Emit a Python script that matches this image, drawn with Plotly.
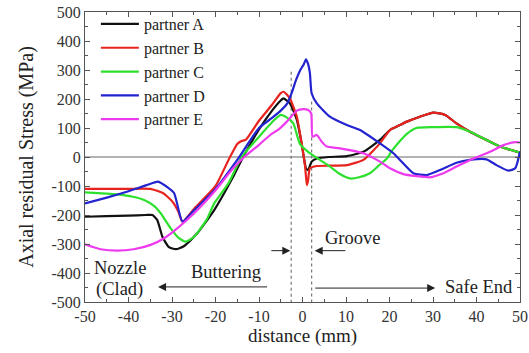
import plotly.graph_objects as go

# ---------------- data ----------------
names = ["partner A", "partner B", "partner C", "partner D", "partner E"]
colors = ["#111111", "#e8231e", "#2ee02e", "#2323d0", "#ee3aee"]

xA = [-50, -45, -40, -36, -34.5, -33.4, -32.2, -30.7, -29.1, -27.2, -24.2, -20.3, -16, -14, -10, -7, -5, -4.4,
      -2.9, -1.3, -0.2, 0.8, 1.3, 2.1, 3.3, 6, 10.2, 14, 17.8, 20.1, 22.4, 24, 27, 30.1, 32.8, 35.4, 38.5, 41.6, 45.4, 50]
yA = [-206, -204, -202, -200, -200, -217, -275, -311, -318, -307, -263, -183, -70, -10, 95, 160, 195, 202,
      185, 128, 47, -39, -45, -16, -5, 0, 3, 18, 59, 93, 110, 122, 139, 153, 145, 116, 87, 64, 36, 15]

xB = [-50, -45, -40, -35, -32, -29.9, -28.5, -27.6, -25, -20, -17, -15, -14, -13, -10, -7, -5, -4.3, -2.9, -1.3,
      -0.2, 0.6, 1.0, 1.3, 1.7, 3.3, 6, 10.2, 14, 17.8, 20.1, 22.4, 24, 27, 30.1, 32.8, 35.4, 38.5, 41.6, 45.4, 50]
yB = [-110, -110, -110, -110, -125, -154, -190, -223, -180, -100, -10, 45, 55, 60, 125, 180, 220, 225, 202, 139,
      47, -33, -97, -79, -39, -31, -30, -28, -10, 47, 93, 110, 122, 139, 153, 145, 116, 87, 64, 36, 15]

xC = [-50, -45, -42.6, -39, -36.4, -34, -32.6, -30.3, -28.4, -26.9, -24.9, -22, -20.3, -17, -14, -10, -7, -5,
      -3.5, -2.1, -0.6, 1.5, 3.5, 6.3, 8.5, 10.9, 13, 15.5, 17.5, 19.4, 20.5, 22.4, 24, 26.2, 30, 35.4, 38.5,
      41.6, 45.4, 50]
yC = [-122, -126, -129, -137, -148, -170, -194, -246, -280, -292, -275, -215, -160, -90, 0, 70, 120, 145,
      135, 116, 45, 15, -5, -33, -58, -74, -70, -56, -30, -5, 20, 55, 80, 100, 103, 103, 87, 64, 36, 15]

xD = [-50, -45, -40, -36, -33.2, -31, -29.5, -27.6, -25, -20, -15, -10, -7, -5, -3.5, -2.5, -1.5, -0.5, 0.3,
      0.8, 1.3, 1.7, 2.1, 3.3, 6.3, 10.2, 13.2, 17.8, 20.9, 22.4, 25.5, 28.6, 31.6, 35.4, 38.5, 42.3, 44.6,
      47.3, 48.9, 50]
yD = [-160, -140, -118, -98, -85, -105, -125, -223, -185, -110, -10, 100, 135, 160, 185, 220, 265, 300, 320,
      337, 320, 289, 220, 185, 139, 110, 93, 47, 13, -10, -56, -62, -45, -20, -10, -8, -28, -47, -39, 18]

xE = [-50, -46.4, -42.6, -38.8, -34.9, -31.8, -28.8, -24.9, -20.3, -16, -13, -10, -7.5, -5.5, -3.6, -1.3, 0.2,
      1.2, 2.0, 2.3, 3.3, 4.4, 5.6, 8.6, 14, 17.8, 20.1, 23.2, 26.2, 29.3, 32.4, 35.4, 39.3, 43.1, 46.2, 48.9, 50]
yE = [-301, -318, -323, -318, -303, -280, -246, -194, -120, -40, 5, 42, 75, 95, 122, 160, 165,
      163, 150, 70, 76, 53, 36, 30, 13, -16, -39, -59, -66, -70, -56, -33, -5, 18, 41, 51, 50]

series_x = [xA, xB, xC, xD, xE]
series_y = [yA, yB, yC, yD, yE]

x_ticks = [-50, -40, -30, -20, -10, 0, 10, 20, 30, 40, 50]
x_ticktext = ["-50", "-40", "-30", "-20", "-10", "0", "10", "20", "30", "40", "50"]
y_ticks = [-500, -400, -300, -200, -100, 0, 100, 200, 300, 400, 500]
y_ticktext = ["-500", "-400", "-300", "-200", "-100", "0", "100", "200", "300", "400", "500"]

groove_lines = [(-2.6, 294), (2.1, 191)]  # x position, top value

FONT = "Liberation Serif, Times New Roman, serif"

fig = go.Figure()

# zero line
fig.add_trace(go.Scatter(x=[-50, 50], y=[0, 0], mode="lines",
                         line=dict(color="#9a9a9a", width=1.6), showlegend=False, hoverinfo="skip"))
# groove dotted lines
for gx, gtop in groove_lines:
    fig.add_trace(go.Scatter(x=[gx, gx], y=[gtop, -500], mode="lines",
                             line=dict(color="#777777", width=1.2, dash="dot"),
                             showlegend=False, hoverinfo="skip"))

for n, c, xs, ys in zip(names, colors, series_x, series_y):
    fig.add_trace(go.Scatter(x=xs, y=ys, mode="lines", name=n,
                             line=dict(color=c, width=2.2, shape="spline", smoothing=0.5)))

# annotations
txt_font = dict(family=FONT, size=18.5, color="#222222")
fig.add_annotation(x=-42, y=-383, text="Nozzle", showarrow=False, font=txt_font, xref="x", yref="y")
fig.add_annotation(x=-42, y=-458, text="(Clad)", showarrow=False, font=txt_font, xref="x", yref="y")
fig.add_annotation(x=-17.6, y=-397, text="Buttering", showarrow=False, font=txt_font, xref="x", yref="y")
fig.add_annotation(x=11.6, y=-280, text="Groove", showarrow=False, font=txt_font, xref="x", yref="y")
fig.add_annotation(x=40.5, y=-448, text="Safe End", showarrow=False, font=txt_font, xref="x", yref="y")

arrows = [(-33.2, -448, -7.8), (-2.8, -323, -7.5), (2.8, -323, 10.2), (30.5, -452, 2.6)]
for hx, hy, tx in arrows:
    fig.add_annotation(x=hx, y=hy, ax=tx, ay=hy, xref="x", yref="y", axref="x", ayref="y",
                       text="", showarrow=True, arrowhead=2, arrowsize=1.6, arrowwidth=1,
                       arrowcolor="#222222", standoff=0)

axis_common = dict(showline=True, linecolor="#555555", linewidth=1, mirror="ticks",
                   ticks="inside", ticklen=5, tickcolor="#555555", showgrid=False, zeroline=False,
                   automargin=False,
                   tickfont=dict(family=FONT, size=16, color="#333333"),
                   minor=dict(ticks="inside", ticklen=3, tickcolor="#555555"))

fig.update_xaxes(range=[-50, 50], tickvals=x_ticks, ticktext=x_ticktext,
                 title=dict(text="distance (mm)", font=dict(family=FONT, size=19, color="#222222"), standoff=4),
                 **axis_common)
fig.update_xaxes(minor_dtick=5)
fig.update_yaxes(range=[-500, 500], tickvals=y_ticks, ticktext=y_ticktext,
                 title=dict(text="Axial residual Stress (MPa)", font=dict(family=FONT, size=20, color="#222222"),
                            standoff=12),
                 **axis_common)
fig.update_yaxes(minor_dtick=50)

fig.update_layout(
    width=529, height=353,
    margin=dict(l=85, r=9, t=12, b=51, autoexpand=False),
    paper_bgcolor="white", plot_bgcolor="white",
    legend=dict(x=0.025, y=1.017, xanchor="left", yanchor="top", bgcolor="rgba(0,0,0,0)",
                font=dict(family=FONT, size=16, color="#222222"), tracegroupgap=0, itemwidth=38),
    showlegend=True,
)

fig.write_html("out.html")
